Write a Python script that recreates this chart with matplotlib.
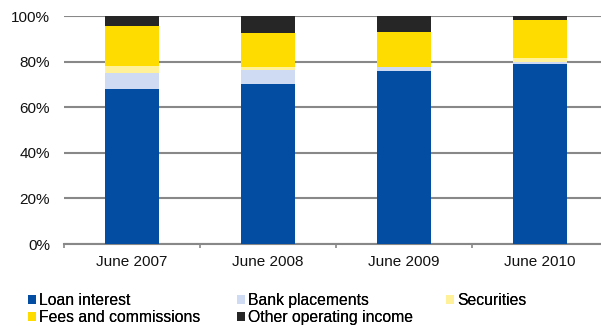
import matplotlib
matplotlib.use("Agg")
import matplotlib.pyplot as plt
import numpy as np

plt.rcParams['font.family'] = ['Liberation Sans', 'DejaVu Sans']

categories = ["June 2007", "June 2008", "June 2009", "June 2010"]
loan_interest = [67.8, 70.2, 75.7, 79.0]
bank_placements = [7.2, 6.1, 1.8, 0.9]
securities = [3.0, 1.5, 0.3, 1.6]
fees_commissions = [17.7, 14.6, 15.1, 16.8]
other_income = [4.3, 7.6, 7.1, 1.7]

series = [
    ("Loan interest", loan_interest, "#034EA2"),
    ("Bank placements", bank_placements, "#CFDBF2"),
    ("Securities", securities, "#FFF09A"),
    ("Fees and commissions", fees_commissions, "#FFDC00"),
    ("Other operating income", other_income, "#262626"),
]

fig = plt.figure(figsize=(6.01, 3.26), dpi=100)
ax = fig.add_axes([64 / 601, 1 - 244 / 326, 544 / 601, 228 / 326])

x = np.arange(len(categories))
bottom = np.zeros(len(categories))
handles = {}
for name, vals, color in series:
    vals = np.array(vals)
    b = ax.bar(x, vals, width=0.4, bottom=bottom, color=color, label=name,
               linewidth=0, zorder=3)
    handles[name] = b
    bottom += vals

ax.set_xlim(-0.5, 3.5)
ax.set_ylim(0, 100)
ax.set_yticks(np.arange(0, 101, 20))
ax.set_yticklabels([f"{v}%" for v in range(0, 101, 20)])
ax.yaxis.grid(True, color="#888888", linewidth=1.5, zorder=0)
ax.set_axisbelow(True)

ax.set_xticks(x)
ax.set_xticklabels(categories)
ax.set_xticks(np.arange(-0.5, 3.6, 1), minor=True)
ax.tick_params(axis="x", which="major", length=0, pad=8, labelsize=11, colors="#111111")
ax.tick_params(axis="x", which="minor", length=3, width=1.2, color="#888888")
ax.tick_params(axis="y", length=0, pad=10, labelsize=11, colors="#111111")

for side in ("left", "right", "top"):
    ax.spines[side].set_visible(False)
ax.spines["bottom"].set_color("#888888")
ax.spines["bottom"].set_linewidth(1.5)

# legend laid out as three columns at fixed horizontal positions
columns = [
    (["Loan interest", "Fees and commissions"], 28),
    (["Bank placements", "Other operating income"], 237),
    (["Securities"], 446),
]
for names, xpx in columns:
    leg = fig.legend([handles[n] for n in names], names, ncol=1,
                     loc="upper left", bbox_to_anchor=(xpx / 601, 1 - 293 / 326),
                     frameon=False, fontsize=11.3, handlelength=0.5,
                     handleheight=0.5, handletextpad=0.2, labelspacing=0.15,
                     borderpad=0, borderaxespad=0)
    fig.add_artist(leg)

fig.savefig("out.png", dpi=100)
